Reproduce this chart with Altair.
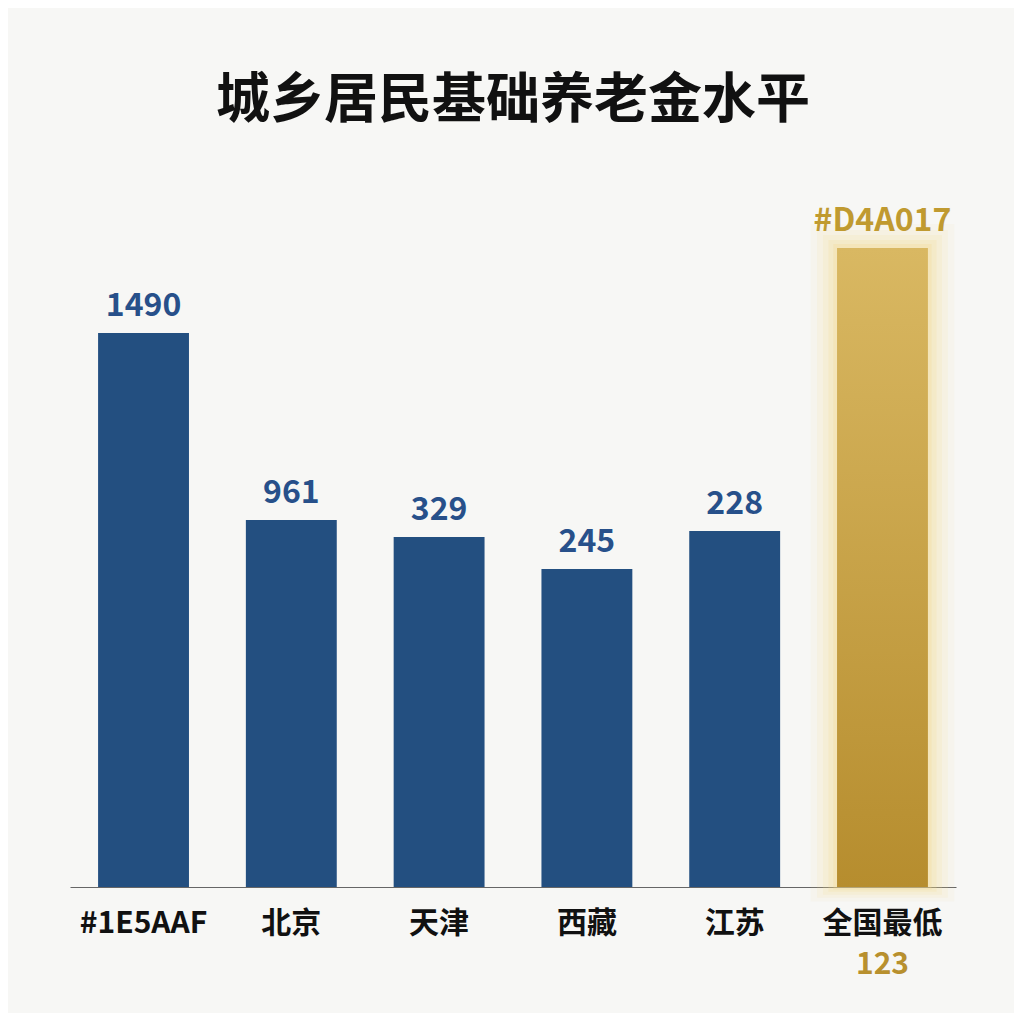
import altair as alt
import pandas as pd

# values (bar heights in plot units, labels as printed)
categories = ["#1E5AAF", "北京", "天津", "西藏", "江苏", "全国最低"]
bar_heights = [554, 367, 350, 318, 356, 639]
value_labels = ["1490", "961", "329", "245", "228", "#D4A017"]
sub_labels = ["", "", "", "", "", "123"]
highlight = [False, False, False, False, False, True]

FONT = "Noto Sans CJK SC"
BLUE = "#234f80"
NAVY_TXT = "#27508a"
GOLD_TXT = "#c09a30"
GLOW = "#f2d98c"

df = pd.DataFrame({
    "cat": categories,
    "h": bar_heights,
    "label": value_labels,
    "sub": sub_labels,
    "hl": highlight,
})

x_enc = alt.X(
    "cat:N",
    sort=categories,
    scale=alt.Scale(paddingInner=0.385, paddingOuter=0.19),
    axis=alt.Axis(
        title=None, labelAngle=0, ticks=False, labelPadding=21,
        labelFont=FONT, labelFontSize=30, labelFontWeight="bold", labelColor="#111111",
        domainColor="#666666", domainWidth=1, grid=False,
    ),
)
y_scale = alt.Scale(domain=[0, 737], nice=False)

base = alt.Chart(df).encode(x=x_enc)

# soft glow behind the lowest (gold) bar (widths relative to the bar's band)
glow_layers = []
for band, ext, op in [(1.58, 24, 0.07), (1.44, 18, 0.10), (1.31, 13, 0.14), (1.19, 8, 0.18), (1.08, 4, 0.25)]:
    glow_layers.append(
        base.transform_filter("datum.hl")
        .transform_calculate(top=f"datum.h + {ext}", bot=f"-{ext * 0.6}")
        .mark_bar(width=alt.RelativeBandSize(band), color=GLOW, opacity=op)
        .encode(y=alt.Y("top:Q", scale=y_scale, axis=None), y2="bot:Q")
    )

blue_bars = (
    base.transform_filter("!datum.hl")
    .mark_bar(color=BLUE)
    .encode(y=alt.Y("h:Q", scale=y_scale, axis=None))
)

gold_bars = (
    base.transform_filter("datum.hl")
    .mark_bar(
        color=alt.Gradient(
            gradient="linear", x1=0, x2=0, y1=0, y2=1,
            stops=[alt.GradientStop(color="#d9b862", offset=0),
                   alt.GradientStop(color="#b68d2e", offset=1)],
        ),
    )
    .encode(y=alt.Y("h:Q", scale=y_scale, axis=None))
)

value_text = base.mark_text(
    font=FONT, fontSize=32, fontWeight="bold", baseline="alphabetic", dy=-17
).encode(
    y=alt.Y("h:Q", scale=y_scale, axis=None),
    text="label:N",
    color=alt.condition("datum.hl", alt.value(GOLD_TXT), alt.value(NAVY_TXT)),
)

sub_text = base.transform_filter("datum.hl").mark_text(
    font=FONT, fontSize=30, fontWeight="bold", baseline="middle", color="#b8902e"
).encode(y=alt.value(815), text="sub:N")

chart = (
    alt.layer(*glow_layers, blue_bars, gold_bars, value_text, sub_text)
    .properties(
        width=886, height=737,
        title=alt.Title(
            "城乡居民基础养老金水平", font=FONT, fontSize=54, fontWeight="bold",
            color="#111111", anchor="middle", baseline="alphabetic", offset=33, dy=55,
        ),
        padding={"left": 62, "top": 142, "right": 58, "bottom": 126},
        autosize=alt.AutoSizeParams(type="none"),
        background="#f7f7f5",
    )
    .configure_view(stroke=None)
)

chart.save("out.html", embed_options={"renderer": "svg", "actions": False})
